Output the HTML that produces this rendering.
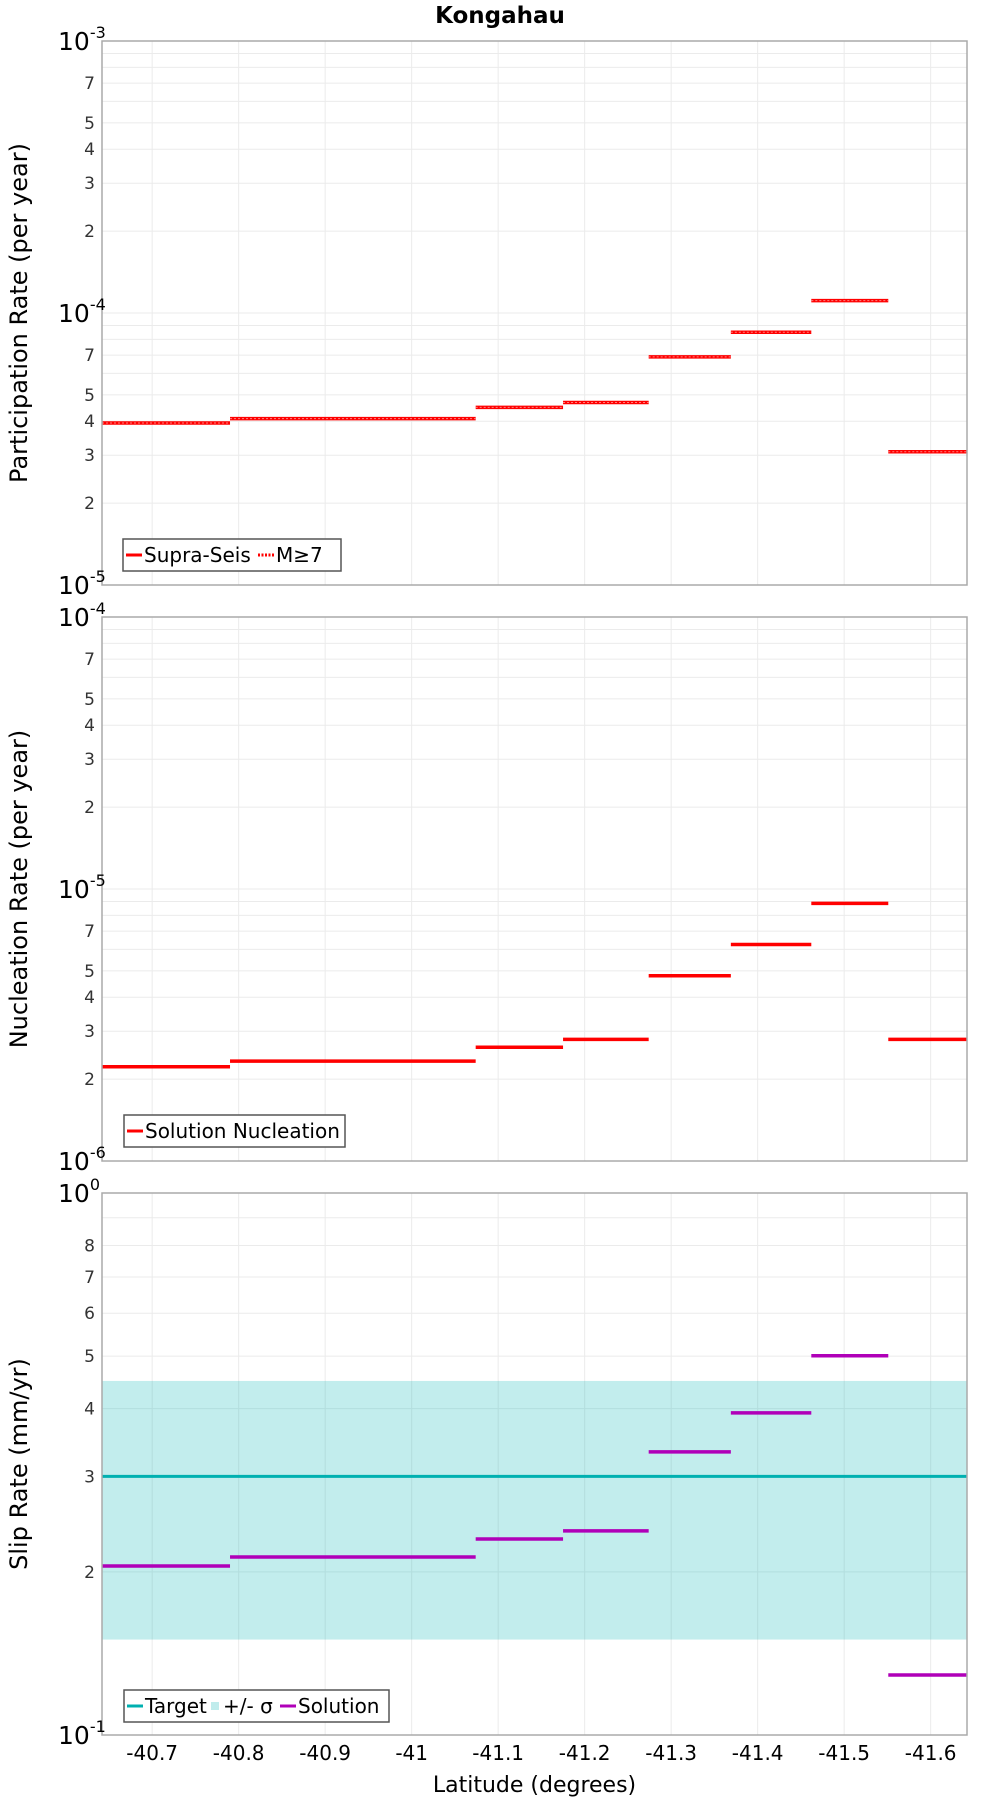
<!DOCTYPE html>
<html><head><meta charset="utf-8"><style>
html,body{margin:0;padding:0;background:#fff;}
svg{display:block;font-family:"DejaVu Sans","Liberation Sans",sans-serif;}
</style></head><body>
<svg id="chart" width="1000" height="1800" viewBox="0 0 1000 1800" xmlns="http://www.w3.org/2000/svg">
<text x="500" y="23" text-anchor="middle" font-size="23" font-weight="bold">Kongahau</text>
</svg>
<script>
const bounds = [-40.642,-40.790,-41.074,-41.175,-41.274,-41.369,-41.462,-41.551,-41.642];
const xTicks = [-40.7,-40.8,-40.9,-41,-41.1,-41.2,-41.3,-41.4,-41.5,-41.6];
const xTickLabels = ["-40.7","-40.8","-40.9","-41","-41.1","-41.2","-41.3","-41.4","-41.5","-41.6"];
const participation = [3.94e-5,4.09e-5,4.5e-5,4.69e-5,6.9e-5,8.5e-5,1.11e-4,3.09e-5];
const nucleation = [2.22e-6,2.33e-6,2.62e-6,2.8e-6,4.8e-6,6.25e-6,8.85e-6,2.8e-6];
const slipSolution = [2.05,2.13,2.30,2.38,3.33,3.93,5.01,1.29];
const slipTarget = 3.0;
const slipSigmaLow = 1.5;
const slipSigmaHigh = 4.5;

const NS='http://www.w3.org/2000/svg';
const svg=document.getElementById('chart');
const L=102,R=967;
const xDom=[-40.642,-41.642];
function xs(v){return L+(v-xDom[0])/(xDom[1]-xDom[0])*(R-L);}
function mk(tag,attrs,parent){const e=document.createElementNS(NS,tag);for(const k in attrs)e.setAttribute(k,attrs[k]);(parent||svg).appendChild(e);return e;}

function panel(top,bot,lo,hi,name){
  const g=mk('g',{});
  
  
  const ys=v=>bot-(Math.log10(v)-Math.log10(lo))/(Math.log10(hi)-Math.log10(lo))*(bot-top);
  mk('rect',{x:L,y:top,width:R-L,height:bot-top,fill:'#fff'},g);
  for(let d=lo;d<hi*0.999;d*=10){
    for(let m=1;m<10;m++){const v=d*m;const y=ys(v);
      if(y<top-0.5||y>bot+0.5)continue;
      mk('line',{x1:L,x2:R,y1:y,y2:y,stroke:'#ebebeb','stroke-width':1},g);}
  }
  xTicks.forEach(t=>{const x=xs(t);mk('line',{x1:x,x2:x,y1:top,y2:bot,stroke:'#ebebeb','stroke-width':1},g);});
  return {g,ys};
}
function decLabels(p,list){
  list.forEach(([y,base,exp])=>{const t=mk('text',{x:58,y:y+9,'font-size':25},p.g);t.textContent=base;
    
    const s=mk('tspan',{dy:-12,'font-size':16},t);s.textContent=exp;});
}
function minorLabel(p,v,label){const t=mk('text',{x:95,y:p.ys(v)+6,'text-anchor':'end','font-size':17,fill:'#333'},p.g);t.textContent=label;}
function frame(g,top,bot){mk('rect',{x:L,y:top,width:R-L,height:bot-top,fill:'none',stroke:'#aaa','stroke-width':1.5},g);}
function yTitle(g,top,bot,txt){const cy=(top+bot)/2;const t=mk('text',{x:0,y:0,transform:`translate(27,${cy}) rotate(-90)`,'text-anchor':'middle','font-size':24},g);t.textContent=txt;}
function segs(g,p,vals,color,dotted,name){
  vals.forEach((v,i)=>{const y=p.ys(v);
    const l=mk('line',{x1:xs(bounds[i]),x2:xs(bounds[i+1]),y1:y,y2:y,stroke:color,'stroke-width':3.5},g);
    
    if(dotted){mk('line',{x1:xs(bounds[i]),x2:xs(bounds[i+1]),y1:y,y2:y,stroke:'#ff8080','stroke-width':1,'stroke-dasharray':'2 2'},g);}
  });
}
function legend(g,x,y,w,items){
  const b=mk('rect',{x:x,y:y,width:w,height:32,fill:'#fff',stroke:'#555','stroke-width':1.5},g);
  
  let cx=x+3;
  items.forEach(it=>{
    if(it.type==='box'){mk('rect',{x:cx+1,y:y+12,width:8,height:8,fill:it.color},g);cx+=13;}
    else{mk('line',{x1:cx,x2:cx+16,y1:y+16,y2:y+16,stroke:it.color,'stroke-width':3,'stroke-dasharray':it.dash||'none'},g);cx+=18;}
    const t=mk('text',{x:cx,y:y+23,'font-size':20},g);t.textContent=it.label;
    
    cx+=it.w;
  });
}
const minors=[2,3,4,5,7];
{const top=41,bot=585,lo=1e-5,hi=1e-3;const p=panel(top,bot,lo,hi,'participation-panel');
 segs(p.g,p,participation,'#ff0000',true,'participation-bar');
 frame(p.g,top,bot);
 [1e-5,1e-4].forEach(d=>minors.forEach(m=>minorLabel(p,d*m,m)));
 decLabels(p,[[p.ys(1e-3),'10','-3'],[p.ys(1e-4),'10','-4'],[p.ys(1e-5),'10','-5']]);
 yTitle(p.g,top,bot,'Participation Rate (per year)');
 legend(p.g,123,539,218,[{color:'#ff0000',label:'Supra-Seis',w:114},{color:'#ff0000',dash:'2 1.5',label:'M≥7',w:60}]);
}
{const top=617,bot=1161,lo=1e-6,hi=1e-4;const p=panel(top,bot,lo,hi,'nucleation-panel');
 segs(p.g,p,nucleation,'#ff0000',false,'nucleation-bar');
 frame(p.g,top,bot);
 [1e-6,1e-5].forEach(d=>minors.forEach(m=>minorLabel(p,d*m,m)));
 decLabels(p,[[p.ys(1e-4),'10','-4'],[p.ys(1e-5),'10','-5'],[p.ys(1e-6),'10','-6']]);
 yTitle(p.g,top,bot,'Nucleation Rate (per year)');
 legend(p.g,124,1115,221,[{color:'#ff0000',label:'Solution Nucleation',w:190}]);
}
{const top=1193,bot=1735,lo=1,hi=10;const p=panel(top,bot,lo,hi,'slip-rate-panel');
 const band=mk('rect',{x:L,y:p.ys(slipSigmaHigh),width:R-L,height:p.ys(slipSigmaLow)-p.ys(slipSigmaHigh),fill:'rgba(0,180,180,0.24)'},p.g);
 
 const tl=mk('line',{x1:L,x2:R,y1:p.ys(slipTarget),y2:p.ys(slipTarget),stroke:'#00b0b0','stroke-width':3},p.g);
 
 segs(p.g,p,slipSolution,'#b000b8',false,'solution-bar');
 frame(p.g,top,bot);
 [2,3,4,5,6,7,8].forEach(m=>minorLabel(p,m,m));
 decLabels(p,[[p.ys(10),'10','0'],[p.ys(1),'10','-1']]);
 yTitle(p.g,top,bot,'Slip Rate (mm/yr)');
 legend(p.g,124,1690,265,[{color:'#00b0b0',label:'Target',w:65},{type:'box',color:'#c0ecec',label:'+/- σ',w:57},{color:'#b000b8',label:'Solution',w:80}]);
 xTicks.forEach((t,i)=>{const e=mk('text',{x:xs(t),y:1760,'text-anchor':'middle','font-size':20},p.g);e.textContent=xTickLabels[i];});
 const xt=mk('text',{x:(L+R)/2,y:1792,'text-anchor':'middle','font-size':22},p.g);xt.textContent='Latitude (degrees)';
 
}
</script>
</body></html>
